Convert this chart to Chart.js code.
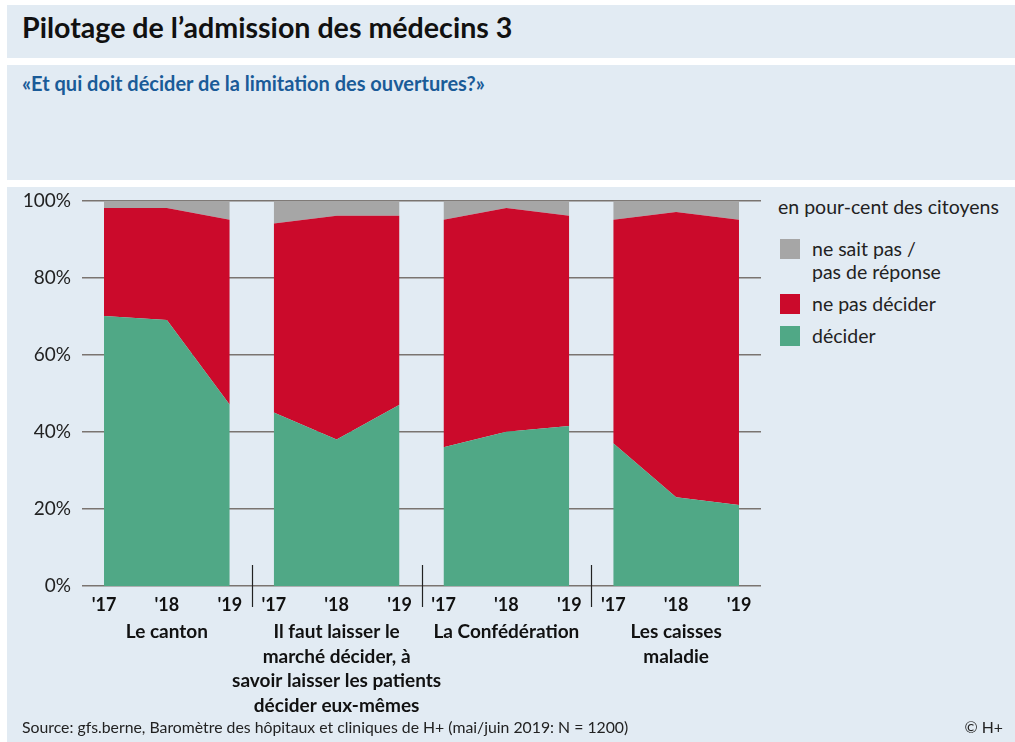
<!DOCTYPE html>
<html>
<head>
<meta charset="utf-8">
<script src="https://cdn.jsdelivr.net/npm/chart.js@4.4.0/dist/chart.umd.min.js"></script>
<style>
  body { margin:0; background:#fff; font-family:Lato, sans-serif; }
  #page { position:relative; width:1015px; height:742px; overflow:hidden; }
  .box { position:absolute; left:7px; right:0; background:#e2ebf3; }
  #title { position:absolute; left:22px; top:12px; font-size:28.6px; line-height:30px; font-weight:700; color:#111; white-space:nowrap; }
  #subtitle { position:absolute; left:22px; top:72px; font-size:20px; line-height:22px; font-weight:700; color:#1a5b98; white-space:nowrap; }
  #chartWrap { position:absolute; left:0; top:178px; width:770px; height:564px; }
  #legend { position:absolute; left:778px; top:195px; font-size:19.5px; color:#222; line-height:23px; }
  #legend .item { position:relative; padding-left:34px; margin-top:9px; }
  #legend .item.first { margin-top:19px; }
  #legend .sw { position:absolute; left:2px; top:2px; width:20px; height:20px; }
  #source { position:absolute; left:22px; top:717px; font-size:15.8px; color:#222; white-space:nowrap; }
  #copy { position:absolute; right:12px; top:717px; font-size:15.8px; color:#222; }
</style>
</head>
<body>
<div id="page">
  <div class="box" style="top:5px;height:53px"></div>
  <div class="box" style="top:65px;height:115px"></div>
  <div class="box" style="top:187px;height:555px"></div>
  <div id="title">Pilotage de l’admission des médecins 3</div>
  <div id="subtitle">«Et qui doit décider de la limitation des ouvertures?»</div>
  <div id="chartWrap"><canvas id="chart"></canvas></div>
  <div id="legend"></div>
  <div id="source">Source: gfs.berne, Baromètre des hôpitaux et cliniques de H+ (mai/juin 2019: N = 1200)</div>
  <div id="copy">© H+</div>
</div>
<script>
// categories
var years = ["'17", "'18", "'19"];
var groups = [
  ["Le canton"],
  ["Il faut laisser le", "marché décider, à", "savoir laisser les patients", "décider eux-mêmes"],
  ["La Confédération"],
  ["Les caisses", "maladie"]
];
// values per group, one entry per year (percent)
var decider      = [[70, 69, 47], [45, 38, 47], [36, 40, 41.5], [37, 23, 21]];
var nePasDecider = [[28, 29, 48], [49, 58, 49], [59, 58, 54.5], [58, 74, 74]];
var neSaitPas    = [[2, 2, 5],    [6, 4, 4],    [5, 2, 4],      [5, 3, 5]];

var seriesNames = ["décider", "ne pas décider", "ne sait pas /\npas de réponse"];
var seriesColors = ["#50a886", "#cb0a2b", "#a6a6a6"];
var yTicks = [0, 20, 40, 60, 80, 100];

// x layout: 3 points per group, spaced by 1, groups separated by a gap
var STEP = 2.7;
function xOf(g, k) { return g * STEP + k; }

var datasets = [];
var allSeries = [decider, nePasDecider, neSaitPas];
groups.forEach(function(lbl, g) {
  allSeries.forEach(function(series, s) {
    datasets.push({
      label: seriesNames[s],
      data: series[g].map(function(v, k){ return {x: xOf(g, k), y: v}; }),
      backgroundColor: seriesColors[s],
      borderWidth: 0,
      pointRadius: 0,
      tension: 0,
      fill: s == 0 ? 'origin' : '-1'
    });
  });
});

var yearTicks = [];
groups.forEach(function(l, g){ years.forEach(function(y, k){ yearTicks.push(xOf(g, k)); }); });
var groupTicks = groups.map(function(l, g){ return xOf(g, 1); });
var sepTicks = [1, 2, 3].map(function(g){ return xOf(g, 0) - (STEP - 2) / 2; });

// small vertical separators between groups
var separators = {
  id: 'separators',
  afterDraw: function(chart) {
    var ctx = chart.ctx, xs = chart.scales.x, bottom = chart.chartArea.bottom;
    ctx.save();
    ctx.strokeStyle = '#222';
    ctx.lineWidth = 1.2;
    sepTicks.forEach(function(v) {
      var px = Math.round(xs.getPixelForValue(v)) + 0.5;
      ctx.beginPath();
      ctx.moveTo(px, bottom - 21);
      ctx.lineTo(px, bottom + 21);
      ctx.stroke();
    });
    ctx.restore();
  }
};

var xMin = -0.35, xMax = xOf(3, 2) + 0.35;

new Chart(document.getElementById('chart'), {
  type: 'line',
  data: { datasets: datasets },
  options: {
    responsive: true,
    maintainAspectRatio: false,
    animation: false,
    layout: { padding: { top: 0, right: 9, left: 0, bottom: 0 } },
    plugins: { legend: { display: false }, tooltip: { enabled: false } },
    scales: {
      x: {
        type: 'linear', min: xMin, max: xMax,
        afterBuildTicks: function(s){ s.ticks = yearTicks.map(function(v){ return {value: v}; }); },
        afterFit: function(s){ s.height = 26; },
        ticks: {
          autoSkip: false, maxRotation: 0, padding: 0,
          color: '#111', font: { family: 'Lato', size: 18, weight: 'bold' },
          callback: function(v, i){ return years[i % 3]; }
        },
        grid: { display: false },
        border: { display: false }
      },
      groupAxis: {
        type: 'linear', position: 'bottom', min: xMin, max: xMax,
        afterBuildTicks: function(s){ s.ticks = groupTicks.map(function(v){ return {value: v}; }); },
        afterFit: function(s){ s.height = 130; },
        ticks: {
          autoSkip: false, maxRotation: 0, padding: 0,
          color: '#111', font: { family: 'Lato', size: 19, weight: 'bold', lineHeight: 1.29 },
          callback: function(v, i){ return groups[i]; }
        },
        grid: { display: false },
        border: { display: false }
      },
      y: {
        stacked: true, min: 0, max: 100,
        afterBuildTicks: function(s){ s.ticks = yTicks.map(function(v){ return {value: v}; }); },
        afterFit: function(s){ s.width = 82; },
        ticks: {
          padding: 11, color: '#222',
          font: { family: 'Lato', size: 19 },
          callback: function(v){ return v + '%'; }
        },
        grid: { color: '#7a7470', lineWidth: 1.5, drawTicks: false },
        border: { display: false }
      }
    }
  },
  plugins: [separators]
});

// legend, top item first as in the stack
var leg = document.getElementById('legend');
var head = document.createElement('div');
head.textContent = 'en pour-cent des citoyens';
leg.appendChild(head);
[2, 1, 0].forEach(function(s, i) {
  var it = document.createElement('div');
  it.className = i == 0 ? 'item first' : 'item';
  it.innerHTML = '<span class="sw" style="background:' + seriesColors[s] + '"></span>' +
    seriesNames[s].replace('\n', '<br>');
  leg.appendChild(it);
});
</script>
</body>
</html>
